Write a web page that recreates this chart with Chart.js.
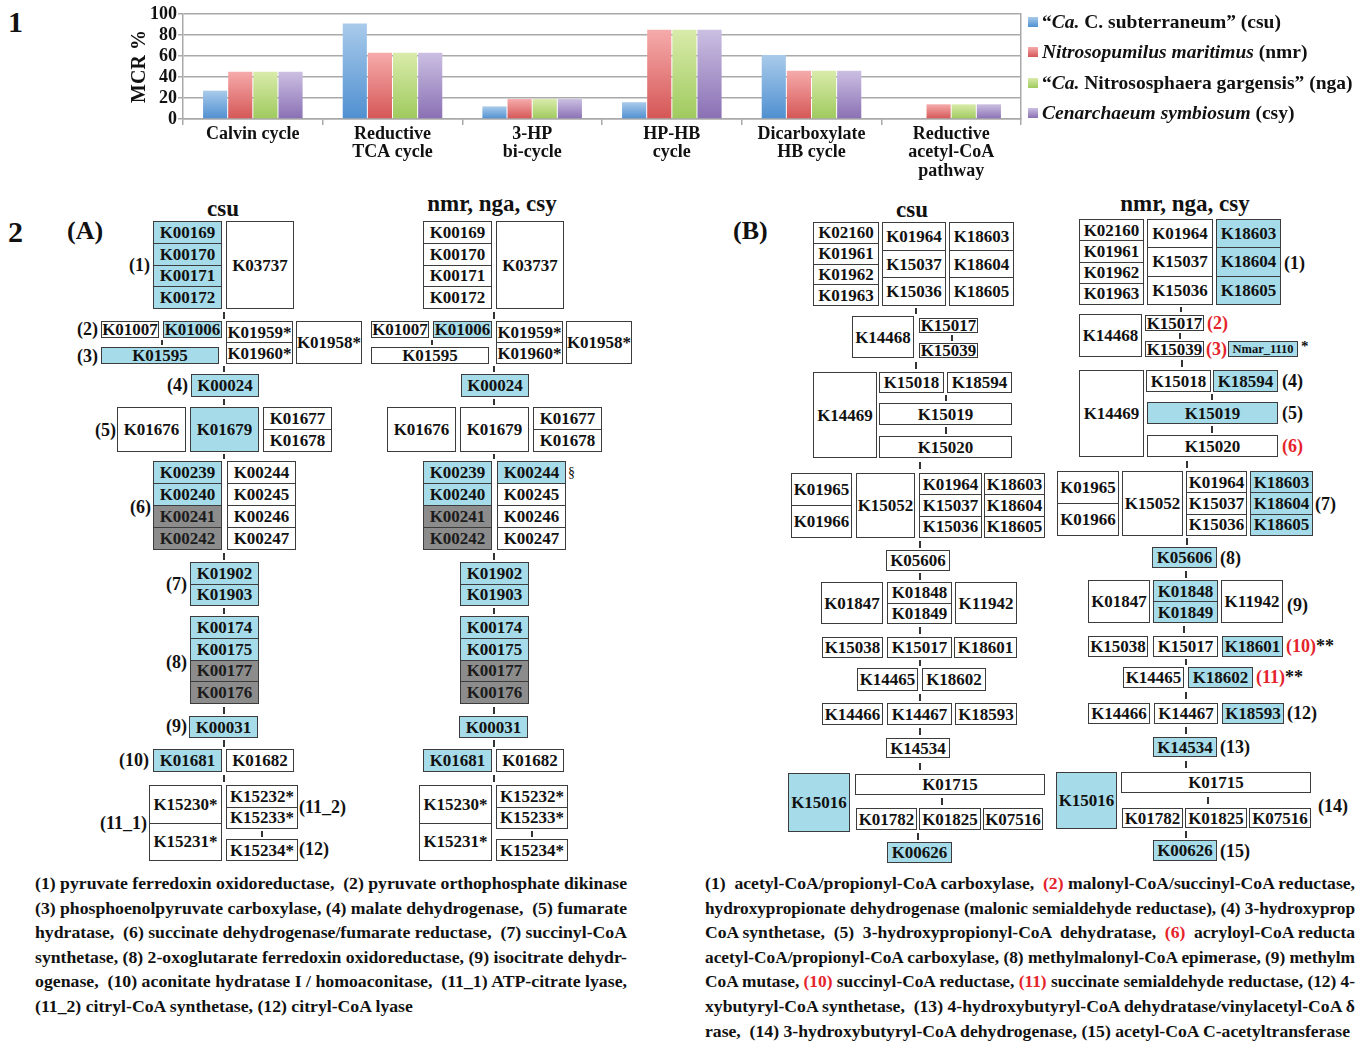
<!DOCTYPE html>
<html><head><meta charset="utf-8">
<script src="https://cdn.jsdelivr.net/npm/chart.js@4.4.0/dist/chart.umd.min.js"></script>
<style>
html,body{margin:0;padding:0;background:#fff;}
body{width:1359px;height:1043px;position:relative;overflow:hidden;font-family:"Liberation Serif","Times New Roman",serif;font-weight:bold;color:#111;}
.abs{position:absolute;white-space:nowrap;}
.bx{position:absolute;box-sizing:border-box;border:1.5px solid #3c3c3c;display:flex;flex-direction:column;}
.cell{flex:1 1 0;min-height:0;box-sizing:border-box;display:flex;align-items:center;justify-content:center;font-size:17px;line-height:1;white-space:nowrap;}
.cell+.cell{border-top:1.5px solid #3c3c3c;}
.tk{position:absolute;width:1.6px;background:#333;}
.lb{position:absolute;font-size:18px;white-space:nowrap;line-height:20px;}
.r{color:#e5232b;}
.cap{position:absolute;font-size:17px;line-height:20px;white-space:pre;display:inline-block;transform-origin:0 50%;}
.leg{position:absolute;left:1042px;font-size:19.5px;line-height:22px;white-space:nowrap;}
.sq{position:absolute;left:1028px;width:10px;height:10px;}
</style>
</head><body>
<canvas id="c" width="920" height="180" style="position:absolute;left:110px;top:0;width:920px;height:180px;"></canvas>
<script>
// ---------- DATA (panel 1) ----------
const categories = [['Calvin cycle'],['Reductive','TCA cycle'],['3-HP','bi-cycle'],['HP-HB','cycle'],['Dicarboxylate','HB cycle'],['Reductive','acetyl-CoA','pathway']];
const csuValues = [27, 91, 12, 16, 61, 0];
const nmrValues = [45, 63, 19, 85, 46, 14];
const ngaValues = [45, 63, 19, 85, 46, 14];
const csyValues = [45, 63, 19, 85, 46, 14];
const yTicks = [0, 20, 40, 60, 80, 100];
const seriesNames = ['csu','nmr','nga','csy'];

// ---------- styles ----------
const GRID = '#a9a9a9';
const PAL = {csu:['#a9cbeb','#4f8fd0'], nmr:['#f6abab','#d55656'], nga:['#d9ebaa','#9fca5e'], csy:['#cbbfe2','#8a70b4']};
const SERIF = '"Liberation Serif","Times New Roman",serif';

function grad(top, bot){
  return (ctx) => {
    const c = ctx.chart; const a = c.chartArea;
    if (!a || !ctx.parsed) return bot;
    const ys = c.scales.y;
    const y1 = ys.getPixelForValue(ctx.parsed.y), y0 = ys.getPixelForValue(0);
    if (!(y0 > y1 + 0.5)) return bot;
    const g = c.ctx.createLinearGradient(0, y1, 0, y0);
    g.addColorStop(0, top); g.addColorStop(1, bot); return g;
  };
}
const vals = {csu:csuValues, nmr:nmrValues, nga:ngaValues, csy:csyValues};
new Chart(document.getElementById('c'), {
  type: 'bar',
  data: {
    labels: categories,
    datasets: seriesNames.map(n => ({label:n, data:vals[n], backgroundColor:grad(PAL[n][0],PAL[n][1]), borderWidth:0, barPercentage:0.96, categoryPercentage:0.72}))
  },
  options: {
    responsive:false, animation:false,
    layout:{padding:{top:14, right:9, left:0, bottom:0}},
    plugins:{legend:{display:false}, tooltip:{enabled:false}},
    scales:{
      x:{
        grid:{display:true, drawOnChartArea:false, tickLength:6, color:GRID, lineWidth:1.5, offset:true},
        border:{display:true, color:GRID, width:1.5},
        ticks:{color:'#111', font:{family:SERIF, size:18, weight:'bold', lineHeight:1.03}, padding:0, maxRotation:0, autoSkip:false},
        afterFit:s=>{s.height = 61;}
      },
      y:{
        min:0, max:100,
        afterBuildTicks:s=>{ s.ticks = yTicks.map(v=>({value:v})); },
        grid:{color:GRID, lineWidth:1.5, tickLength:5},
        border:{display:true, color:GRID, width:1.5},
        ticks:{color:'#111', font:{family:SERIF, size:18, weight:'bold', lineHeight:1.0}, padding:1, autoSkip:false},
        title:{display:true, text:'MCR %', color:'#111', font:{family:SERIF, size:20, weight:'bold'}, padding:{top:18,bottom:0}},
        afterFit:s=>{s.width = 73;}
      },
      yR:{
        position:'right', min:0, max:100,
        grid:{display:false, drawTicks:false}, ticks:{display:false},
        border:{display:true, color:GRID, width:1.5},
        afterFit:s=>{s.width = 0;}
      }
    }
  }
});
</script>

<!-- panel numbers -->
<div class="abs" style="left:8px;top:5px;font-size:30px;line-height:34px;">1</div>
<div class="abs" style="left:8px;top:215px;font-size:30px;line-height:34px;">2</div>
<div class="abs" style="left:67px;top:216px;font-size:26px;line-height:30px;">(A)</div>
<div class="abs" style="left:733px;top:216px;font-size:26px;line-height:30px;">(B)</div>

<script>
// ---------- legend ----------
const legendItems = [
  ['csu','“<i>Ca.</i> C. subterraneum” (csu)'],
  ['nmr','<i>Nitrosopumilus maritimus</i> (nmr)'],
  ['nga','“<i>Ca.</i> Nitrososphaera gargensis” (nga)'],
  ['csy','<i>Cenarchaeum symbiosum</i> (csy)']
];
const legendRowY = [22, 52, 83, 113];
legendItems.forEach((it,i)=>{
  const sq=document.createElement('div'); sq.className='sq';
  sq.style.top=(legendRowY[i]-5)+'px';
  sq.style.background='linear-gradient(180deg,'+PAL[it[0]][0]+','+PAL[it[0]][1]+')';
  document.body.appendChild(sq);
  const t=document.createElement('div'); t.className='leg'; t.style.top=(legendRowY[i]-11)+'px'; t.innerHTML=it[1];
  document.body.appendChild(t);
});

// ---------- diagram (panel 2) ----------
const FILL = {w:'#ffffff', b:'#a6dce9', g:'#8c8c8c'};
function addBox(x1,y1,x2,y2,labels,fills,fs){
  const d=document.createElement('div'); d.className='bx';
  Object.assign(d.style,{left:x1+'px',top:y1+'px',width:(x2-x1)+'px',height:(y2-y1)+'px'});
  labels.forEach((t,i)=>{
    const c=document.createElement('div'); c.className='cell'; c.textContent=t;
    const f=fills[i]||'w'; c.style.background=FILL[f]; if(f==='g') c.style.color='#1c1c1c';
    if(fs) c.style.fontSize=fs+'px';
    d.appendChild(c);
  });
  document.body.appendChild(d);
}
function addTick(x,g1,g2){
  const len=Math.min(7,g2-g1-4); const t=document.createElement('div'); t.className='tk';
  Object.assign(t.style,{left:(x-0.8)+'px',top:((g1+g2)/2-len/2)+'px',height:len+'px'});
  document.body.appendChild(t);
}
function addLabel(html,x,yc,anchor,fs){
  const l=document.createElement('div'); l.className='lb'; l.innerHTML=html;
  if(fs) l.style.fontSize=fs+'px';
  l.style.top=(yc-10)+'px';
  if(anchor==='r') l.style.right=(1359-x)+'px';
  else if(anchor==='c'){ l.style.left=x+'px'; l.style.transform='translateX(-50%)'; }
  else l.style.left=x+'px';
  document.body.appendChild(l);
}

// Panel A: [x1,y1,x2,y2,labels,fills csu,fills nmr/nga/csy]; right column shifted by 270
const panelA = [
 [153,221,222,309,['K00169','K00170','K00171','K00172'],'bbbb','wwww'],
 [226,221,294,309,['K03737'],'w','w'],
 [101,321,159,338,['K01007'],'w','w'],
 [163,321,222,338,['K01006'],'b','b'],
 [226,321,293,364,['K01959*','K01960*'],'ww','ww'],
 [296,321,362,364,['K01958*'],'w','w'],
 [101,347,219,364,['K01595'],'b','w'],
 [191,374,259,397,['K00024'],'b','b'],
 [117,407,186,452,['K01676'],'w','w'],
 [190,407,259,452,['K01679'],'b','w'],
 [263,407,332,452,['K01677','K01678'],'ww','ww'],
 [153,461,222,550,['K00239','K00240','K00241','K00242'],'bbgg','bbgg'],
 [227,461,296,550,['K00244','K00245','K00246','K00247'],'wwww','bwww'],
 [190,562,259,606,['K01902','K01903'],'bb','bb'],
 [190,616,259,704,['K00174','K00175','K00177','K00176'],'bbgg','bbgg'],
 [189,716,258,738,['K00031'],'b','b'],
 [153,749,222,772,['K01681'],'b','b'],
 [226,749,294,772,['K01682'],'w','w'],
 [149,785,222,861,['K15230*','K15231*'],'ww','ww'],
 [226,785,298,829,['K15232*','K15233*'],'ww','ww'],
 [226,839,298,861,['K15234*'],'w','w']
];
const ticksA = [[224,309,321],[162,338,347],[224,364,374],[224,397,407],[224,452,461],[224,550,562],[224,606,616],[224,704,716],[224,738,749],[224,772,785],[262,829,839]];
const labelsA = [['(1)',150,265,'r'],['(2)',98,329,'r'],['(3)',98,356,'r'],['(4)',188,385,'r'],['(5)',116,430,'r'],['(6)',151,507,'r'],['(7)',187,584,'r'],['(8)',187,662,'r'],['(9)',187,726,'r'],['(10)',149,760,'r'],['(11_1)',147,823,'r'],['(11_2)',299,807,'l'],['(12)',299,849,'l']];
panelA.forEach(b=>{ addBox(b[0],b[1],b[2],b[3],b[4],b[5]); addBox(b[0]+270,b[1],b[2]+270,b[3],b[4],b[6]); });
ticksA.forEach(t=>{ addTick(t[0],t[1],t[2]); addTick(t[0]+270,t[1],t[2]); });
labelsA.forEach(l=>addLabel(l[0],l[1],l[2],l[3]));
addLabel('<span style="font-weight:normal">§</span>',568,473,'l',14);
addLabel('csu',223,209,'c',23); addLabel('nmr, nga, csy',492,204,'c',23);
addLabel('csu',912,210,'c',23); addLabel('nmr, nga, csy',1185,204,'c',23);

// Panel B, csu column
const panelBcsu = [
 [813,222,879,306,['K02160','K01961','K01962','K01963'],'wwww'],
 [882,222,946,306,['K01964','K15037','K15036'],'www'],
 [949,222,1014,306,['K18603','K18604','K18605'],'www'],
 [852,316,914,358,['K14468'],'w'],
 [919,318,978,333,['K15017'],'w'],
 [919,343,978,358,['K15039'],'w'],
 [813,372,877,458,['K14469'],'w'],
 [879,372,944,393,['K15018'],'w'],
 [947,372,1012,393,['K18594'],'w'],
 [879,403,1012,425,['K15019'],'w'],
 [879,436,1012,458,['K15020'],'w'],
 [791,473,852,538,['K01965','K01966'],'ww'],
 [856,473,915,538,['K15052'],'w'],
 [919,473,982,538,['K01964','K15037','K15036'],'www'],
 [984,473,1045,538,['K18603','K18604','K18605'],'www'],
 [886,550,950,571,['K05606'],'w'],
 [821,582,883,624,['K01847'],'w'],
 [887,582,952,624,['K01848','K01849'],'ww'],
 [955,582,1017,624,['K11942'],'w'],
 [822,637,883,658,['K15038'],'w'],
 [887,637,952,658,['K15017'],'w'],
 [954,637,1017,658,['K18601'],'w'],
 [857,668,918,691,['K14465'],'w'],
 [922,668,986,691,['K18602'],'w'],
 [822,703,883,725,['K14466'],'w'],
 [887,703,952,725,['K14467'],'w'],
 [955,703,1017,725,['K18593'],'w'],
 [886,738,950,758,['K14534'],'w'],
 [788,773,850,832,['K15016'],'b'],
 [855,774,1045,795,['K01715'],'w'],
 [856,808,917,830,['K01782'],'w'],
 [919,808,981,830,['K01825'],'w'],
 [983,808,1043,830,['K07516'],'w'],
 [887,842,952,863,['K00626'],'b']
];
const ticksBcsu = [[916,306,316],[952,333,343],[916,358,372],[946,393,403],[946,425,436],[920,458,473],[920,538,550],[920,571,582],[920,624,637],[920,658,668],[920,691,703],[920,725,738],[920,758,774],[942,795,808],[918,830,842]];

// Panel B, nmr/nga/csy column
const panelBother = [
 [1079,219,1144,305,['K02160','K01961','K01962','K01963'],'wwww'],
 [1147,219,1213,305,['K01964','K15037','K15036'],'www'],
 [1216,219,1281,305,['K18603','K18604','K18605'],'bbb'],
 [1079,314,1142,357,['K14468'],'w'],
 [1145,315,1204,331,['K15017'],'w'],
 [1145,341,1204,357,['K15039'],'w'],
 [1079,370,1144,457,['K14469'],'w'],
 [1146,370,1211,392,['K15018'],'w'],
 [1213,370,1278,392,['K18594'],'b'],
 [1147,402,1278,424,['K15019'],'b'],
 [1147,435,1278,457,['K15020'],'w'],
 [1057,471,1119,536,['K01965','K01966'],'ww'],
 [1122,471,1183,536,['K15052'],'w'],
 [1186,471,1247,536,['K01964','K15037','K15036'],'www'],
 [1250,471,1313,536,['K18603','K18604','K18605'],'bbb'],
 [1152,547,1217,568,['K05606'],'b'],
 [1088,580,1150,623,['K01847'],'w'],
 [1153,580,1218,623,['K01848','K01849'],'bb'],
 [1221,580,1283,623,['K11942'],'w'],
 [1088,636,1148,657,['K15038'],'w'],
 [1153,636,1218,657,['K15017'],'w'],
 [1222,636,1283,657,['K18601'],'b'],
 [1123,667,1184,688,['K14465'],'w'],
 [1188,667,1253,688,['K18602'],'b'],
 [1088,703,1150,724,['K14466'],'w'],
 [1154,703,1218,724,['K14467'],'w'],
 [1222,703,1284,724,['K18593'],'b'],
 [1153,737,1217,757,['K14534'],'b'],
 [1056,772,1117,829,['K15016'],'b'],
 [1121,772,1311,793,['K01715'],'w'],
 [1122,808,1183,828,['K01782'],'w'],
 [1185,808,1247,828,['K01825'],'w'],
 [1249,808,1311,828,['K07516'],'w'],
 [1153,840,1217,861,['K00626'],'b']
];
const ticksBother = [[1181,305,314],[1180,331,341],[1182,357,370],[1212,392,402],[1212,424,435],[1187,457,471],[1187,536,547],[1186,568,580],[1184,623,636],[1186,657,667],[1186,688,703],[1186,724,737],[1186,757,772],[1208,793,808],[1186,828,840]];
const labelsB = [['(1)',1284,263],['<span class="r">(2)</span>',1207,323],['<span class="r">(3)</span>',1206,349],['(4)',1282,381],['(5)',1282,413],['<span class="r">(6)</span>',1282,446],['(7)',1315,504],['(8)',1220,558],['(9)',1287,605],['<span class="r">(10)</span>**',1286,646],['<span class="r">(11)</span>**',1256,677],['(12)',1287,713],['(13)',1220,747],['(14)',1318,806],['(15)',1220,851]];

panelBcsu.forEach(b=>addBox(b[0],b[1],b[2],b[3],b[4],b[5]));
panelBother.forEach(b=>addBox(b[0],b[1],b[2],b[3],b[4],b[5]));
addBox(1228,341,1298,357,['Nmar_1110'],'b',12.5);
ticksBcsu.forEach(t=>addTick(t[0],t[1],t[2]));
ticksBother.forEach(t=>addTick(t[0],t[1],t[2]));
labelsB.forEach(l=>addLabel(l[0],l[1],l[2],'l'));
addLabel('*',1301,346,'l',15);

// ---------- captions ----------
const capLeft = [
 '(1) pyruvate ferredoxin oxidoreductase,  (2) pyruvate orthophosphate dikinase',
 '(3) phosphoenolpyruvate carboxylase, (4) malate dehydrogenase,  (5) fumarate',
 'hydratase,  (6) succinate dehydrogenase/fumarate reductase,  (7) succinyl-CoA',
 'synthetase, (8) 2-oxoglutarate ferredoxin oxidoreductase, (9) isocitrate dehydr-',
 'ogenase,  (10) aconitate hydratase I / homoaconitase,  (11_1) ATP-citrate lyase,',
 '(11_2) citryl-CoA synthetase, (12) citryl-CoA lyase'
];
const capRight = [
 '(1)  acetyl-CoA/propionyl-CoA carboxylase,  <span class="r">(2)</span> malonyl-CoA/succinyl-CoA reductase,',
 'hydroxypropionate dehydrogenase (malonic semialdehyde reductase), (4) 3-hydroxyprop',
 'CoA synthetase,  (5)  3-hydroxypropionyl-CoA  dehydratase,  <span class="r">(6)</span>  acryloyl-CoA reducta',
 'acetyl-CoA/propionyl-CoA carboxylase, (8) methylmalonyl-CoA epimerase, (9) methylm',
 'CoA mutase, <span class="r">(10)</span> succinyl-CoA reductase, <span class="r">(11)</span> succinate semialdehyde reductase, (12) 4-',
 'xybutyryl-CoA synthetase,  (13) 4-hydroxybutyryl-CoA dehydratase/vinylacetyl-CoA δ',
 'rase,  (14) 3-hydroxybutyryl-CoA dehydrogenase, (15) acetyl-CoA C-acetyltransferase'
];
const leftW = [592,592,592,592,592,null];
const rightW = [650,650,650,650,650,650,645];
function placeCaps(lines, widths, x0, y0){
  const els = lines.map((t,i)=>{
    const e=document.createElement('div'); e.className='cap'; e.innerHTML=t;
    e.style.left=x0+'px'; e.style.top=(y0+i*24.6-10)+'px'; document.body.appendChild(e); return e;
  });
  const sc=[];
  els.forEach((e,i)=>{ if(widths[i]){ const s=widths[i]/e.getBoundingClientRect().width; sc.push(s); e.style.transform='scaleX('+s+')'; } });
  const avg = sc.reduce((a,b)=>a+b,0)/sc.length;
  els.forEach((e,i)=>{ if(!widths[i]) e.style.transform='scaleX('+avg+')'; });
}
placeCaps(capLeft, leftW, 35, 884);
placeCaps(capRight, rightW, 705, 884);
</script>
</body></html>
